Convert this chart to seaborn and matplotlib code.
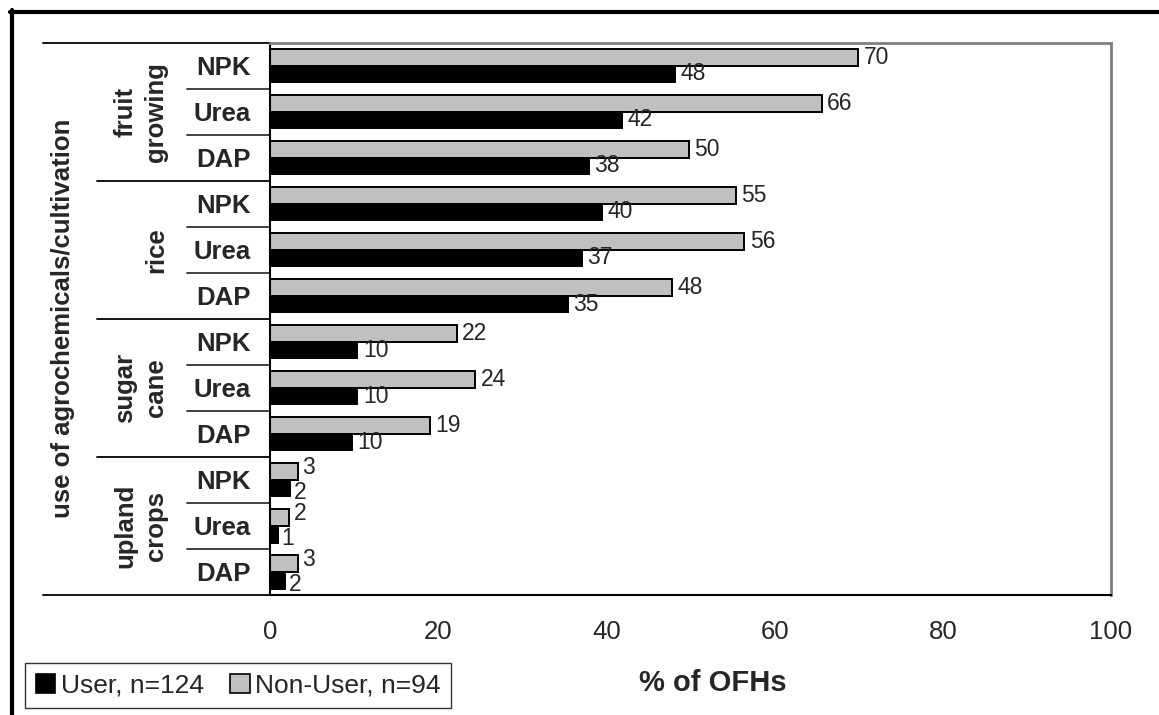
import matplotlib
matplotlib.use("Agg")
import matplotlib.pyplot as plt
from matplotlib.lines import Line2D
from matplotlib.patches import Patch
import pandas as pd
import seaborn as sns

# ─── Data (rows top to bottom) ────────────────────────────────────────────────
groups = ["fruit\ngrowing", "rice", "sugar\ncane", "upland\ncrops"]
fertilizers = ["NPK", "Urea", "DAP"]
user_vals = [48.2, 41.8, 37.9, 39.5, 37.1, 35.4, 10.4, 10.4, 9.7, 2.4, 0.9, 1.8]
nonuser_vals = [69.9, 65.6, 49.8, 55.4, 56.4, 47.8, 22.2, 24.4, 19.0, 3.3, 2.3, 3.3]
series_names = ["User, n=124", "Non-User, n=94"]
x_ticks = [0, 20, 40, 60, 80, 100]

rows = [f"{g}|{f}" for g in groups for f in fertilizers]
df = pd.DataFrame({
    "row": rows * 2,
    "value": nonuser_vals + user_vals,
    "series": ["Non-User"] * len(rows) + ["User"] * len(rows),
})

sns.set_style("white")
plt.rcParams["font.family"] = ["Liberation Sans", "DejaVu Sans"]

fig = plt.figure(figsize=(11.59, 7.15), dpi=100)
W, H = 1159, 715
ax = fig.add_axes([270 / W, 1 - 595 / H, (1111 - 270) / W, (595 - 42.5) / H])

sns.barplot(data=df, y="row", x="value", hue="series", order=rows,
            hue_order=["Non-User", "User"],
            palette={"Non-User": "#C0C0C0", "User": "black"},
            edgecolor="black", linewidth=1.4, width=0.72, orient="h",
            legend=False, ax=ax)

# value labels (small bars: nudge the pair apart like the original)
for ci, (cont, vals) in enumerate(zip(ax.containers, [nonuser_vals, user_vals])):
    anns = ax.bar_label(cont, labels=[f"{v:.0f}" for v in vals], padding=4, fontsize=16.5)
    for i, a in enumerate(anns):
        if vals[i] < 5:
            a.xyann = (3, 3 if ci == 0 else -3)

ax.set_xlim(0, 100)
ax.set_ylim(len(rows) - 0.5, -0.5)
ax.set_xticks(x_ticks)
ax.set_xticklabels([str(t) for t in x_ticks], fontsize=18.5)
ax.tick_params(axis="x", direction="out", length=6, width=1, color="black", pad=12)
ax.set_yticks(range(len(rows)))
ax.set_yticklabels(fertilizers * len(groups), fontsize=18.5, fontweight="bold")
ax.tick_params(axis="y", length=0, pad=14)
ax.set_xlabel("")
ax.set_ylabel("")

for side in ["top", "right"]:
    ax.spines[side].set_color("#808080")
    ax.spines[side].set_linewidth(2)
for side in ["left", "bottom"]:
    ax.spines[side].set_color("black")
    ax.spines[side].set_linewidth(1.5)

# multi-level category lines on the left
tr = ax.get_yaxis_transform()
x_outer = (43 - 270) / 841
x_group = (97 - 270) / 841
x_sub = (187 - 270) / 841
for y in [-0.5, len(rows) - 0.5]:
    ax.plot([x_outer, 0], [y, y], color="black", lw=1.3, transform=tr, clip_on=False)
for gi in range(1, len(groups)):
    y = gi * 3 - 0.5
    ax.plot([x_group, 0], [y, y], color="black", lw=1.3, transform=tr, clip_on=False)
for gi in range(len(groups)):
    for k in (1, 2):
        y = gi * 3 + k - 0.5
        ax.plot([x_sub, 0], [y, y], color="#333333", lw=1.3, transform=tr, clip_on=False)

# group labels
for gi, g in enumerate(groups):
    ax.text((168 - 270) / 841, gi * 3 + 1, g, transform=tr, rotation=90,
            rotation_mode="anchor", ha="center", va="bottom", fontsize=18.5,
            fontweight="bold", linespacing=1.35)

ax.text((63 - 270) / 841, 0.5, "use of agrochemicals/cultivation", transform=ax.transAxes,
        rotation=90, ha="center", va="center", fontsize=18.5, fontweight="bold")

fig.text(713 / W, 1 - 683 / H, "% of OFHs", ha="center", va="center",
         fontsize=21, fontweight="bold")

handles = [Patch(facecolor="black", edgecolor="black", linewidth=1.2),
           Patch(facecolor="#C0C0C0", edgecolor="black", linewidth=1.2)]
leg = fig.legend(handles, series_names, loc="upper left",
                 bbox_to_anchor=(25 / W, 1 - 663 / H), ncol=2, fontsize=19,
                 frameon=True, fancybox=False, edgecolor="black",
                 handlelength=0.75, handleheight=0.75, handletextpad=0.2,
                 columnspacing=1.0, borderpad=0.4, borderaxespad=0)
leg.get_frame().set_linewidth(1.0)

# outer frame (top and left)
fig.add_artist(Line2D([10 / W, 1], [1 - 11.5 / H, 1 - 11.5 / H], color="black", lw=3,
                      transform=fig.transFigure))
fig.add_artist(Line2D([12 / W, 12 / W], [0, 1 - 10 / H], color="black", lw=3,
                      transform=fig.transFigure))

fig.savefig("out.png", dpi=100)
